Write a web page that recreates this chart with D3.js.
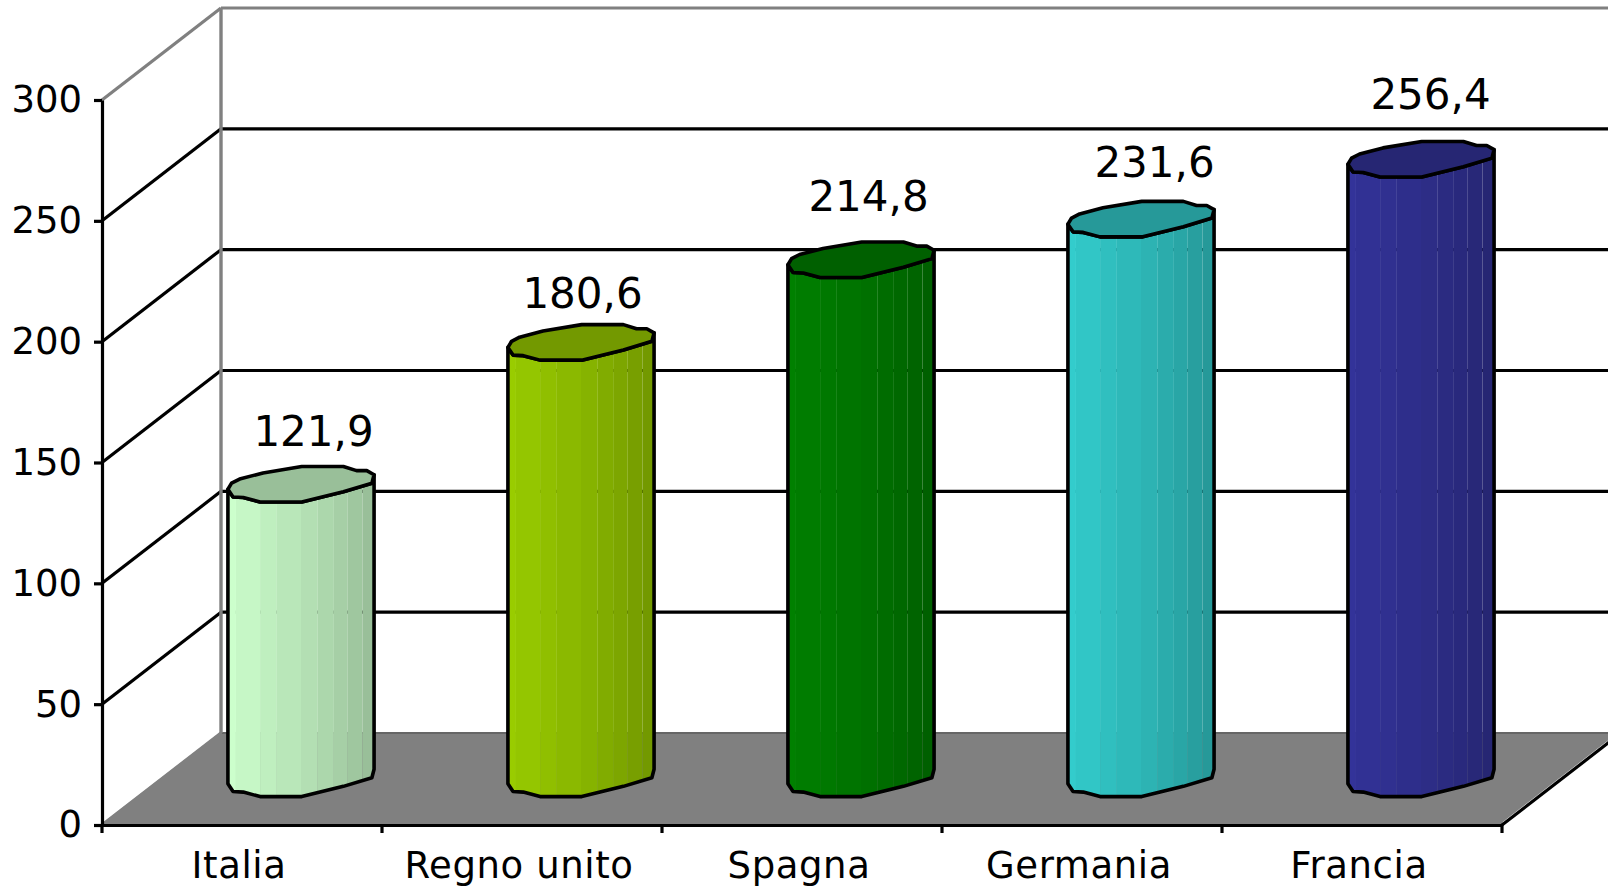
<!DOCTYPE html>
<html>
<head>
<meta charset="utf-8">
<script src="https://cdn.jsdelivr.net/npm/d3@7"></script>
<style>
html, body { margin: 0; padding: 0; background: #fff; overflow: hidden; }
text { font-family: "DejaVu Sans", sans-serif; font-size: 42px; fill: #000; }
</style>
</head>
<body>
<div id="chart"></div>
<script>
"use strict";

const countries = ["Italia", "Regno unito", "Spagna", "Germania", "Francia"];
const values = [121.9, 180.6, 214.8, 231.6, 256.4];
const valueLabels = ["121,9", "180,6", "214,8", "231,6", "256,4"];
const yTicks = [0, 50, 100, 150, 200, 250, 300];

const barColors = ["#ccffcc", "#99cc00", "#008000", "#33cccc", "#333399"];
const capColors = ["#99bf99", "#739900", "#006000", "#269999", "#262673"];

// labels in the picture don't sit at a regular distance from the bars
const labelShift = [[12, -38], [1, -35], [7, -49], [13, -42], [9, -50]];

// outline of the cylinder top, in fractions of its radii, from the right going round the front
const rimShape = [[1, -.54], [.97, -.07], [.58, .41], [.01, .98], [-.56, .98], [-.79, .73], [-.93, .7], [-1, .27],
    [-.95, -.07], [-.84, -.3], [-.52, -.64], [.01, -1], [.58, -1], [.76, -.77], [.9, -.77]];
const frontRim = rimShape.slice(0, 8);
// facet edges across the cylinder, -1 left side, 1 right side
const facets = [-1, -.89, -.56, -.33, 0, .23, .45, .64, .84, 1];

const WIDTH = 1608, HEIGHT = 886;
const margin = {top: 100, left: 102, bottom: 61};
const depthX = 119, depthY = 92;
const plotWidth = 1400;
const LINE = 3.2;

const svg = d3.select("#chart").append("svg")
    .attr("width", WIDTH)
    .attr("height", HEIGHT)
    .style("display", "block");

const x = d3.scaleBand().domain(countries).range([margin.left, margin.left + plotWidth]);
const y = d3.scaleLinear().domain([0, 300]).range([HEIGHT - margin.bottom, margin.top]);
const y0 = y(0), x0 = x.range()[0], x1 = x.range()[1];

// floor
svg.append("polygon")
    .attr("points", [[x0, y0], [x0 + depthX, y0 - depthY], [x1 + depthX, y0 - depthY], [x1, y0]].join(" "))
    .attr("fill", "#808080");
svg.append("line").attr("x1", x0 + depthX).attr("x2", WIDTH)
    .attr("y1", y0 - depthY).attr("y2", y0 - depthY)
    .attr("stroke", "#666").attr("stroke-width", 2);
svg.append("line").attr("x1", x0 + 2).attr("y1", y0 - 2)
    .attr("x2", x0 + depthX).attr("y2", y0 - depthY)
    .attr("stroke", "#aaa").attr("stroke-width", 2);
svg.append("line").attr("x1", x1 + 1).attr("y1", y0 - 2)
    .attr("x2", x1 + depthX + 1).attr("y2", y0 - depthY - 2)
    .attr("stroke", "#fff").attr("stroke-width", 2);
svg.append("line").attr("x1", x1).attr("y1", y0)
    .attr("x2", x1 + depthX).attr("y2", y0 - depthY)
    .attr("stroke", "#000").attr("stroke-width", LINE);

// grid on the side and back walls
const gridColor = d => (d === 0 || d === 300) ? "#808080" : "#000";
svg.selectAll(".side").data(yTicks).enter().append("line")
    .attr("class", "side")
    .attr("x1", x0).attr("y1", d => y(d))
    .attr("x2", x0 + depthX).attr("y2", d => y(d) - depthY)
    .attr("stroke", gridColor)
    .attr("stroke-width", LINE);
svg.selectAll(".back").data(yTicks.slice(1)).enter().append("line")
    .attr("class", "back")
    .attr("x1", x0 + depthX).attr("y1", d => y(d) - depthY)
    .attr("x2", WIDTH).attr("y2", d => y(d) - depthY)
    .attr("stroke", gridColor)
    .attr("stroke-width", LINE);
svg.append("line")
    .attr("x1", x0 + depthX).attr("y1", y(300) - depthY)
    .attr("x2", x0 + depthX).attr("y2", y0 - depthY)
    .attr("stroke", "#808080")
    .attr("stroke-width", 3.4);

// cylinders
const rx = x.bandwidth() * 0.261;
const ry = depthY * 0.195;
const outline = d3.line().curve(d3.curveLinearClosed);

countries.forEach(function(c, i) {
    const cx = x(c) + x.bandwidth() / 2 + depthX / 2 - 0.5;
    const top = y(values[i]) - depthY / 2;
    const bottom = y0 - depthY / 2;
    const rim = (p, cy) => [cx + p[0] * rx, cy + p[1] * ry];
    const body = frontRim.map(p => rim(p, bottom))
        .concat(frontRim.slice().reverse().map(p => rim(p, top)));
    const g = svg.append("g");
    const shade = d3.interpolateRgb(barColors[i], capColors[i]);

    g.append("clipPath").attr("id", "body" + i)
        .append("path").attr("d", outline(body));
    g.append("g").attr("clip-path", "url(#body" + i + ")")
        .selectAll("rect").data(facets.slice(1)).enter().append("rect")
        .attr("x", (d, k) => cx + facets[k] * rx)
        .attr("width", (d, k) => (d - facets[k]) * rx)
        .attr("y", top - ry)
        .attr("height", bottom - top + 2 * ry)
        .attr("fill", (d, k) => shade(k / (facets.length - 2)));
    g.append("path").attr("d", outline(body))
        .attr("fill", "none")
        .attr("stroke", "#000")
        .attr("stroke-width", 3.6)
        .attr("stroke-linejoin", "round");
    g.append("path").attr("d", outline(rimShape.map(p => rim(p, top))))
        .attr("fill", capColors[i])
        .attr("stroke", "#000")
        .attr("stroke-width", 3.6)
        .attr("stroke-linejoin", "round");
    g.append("text")
        .attr("x", cx + labelShift[i][0] + 0.5)
        .attr("y", top + labelShift[i][1])
        .attr("text-anchor", "middle")
        .text(valueLabels[i]);
});

// axes
const yAxis = svg.append("g")
    .attr("transform", "translate(" + x0 + ",0)")
    .call(d3.axisLeft(y).tickValues(yTicks).tickSize(8).tickPadding(12).tickSizeOuter(0));
const xAxis = svg.append("g")
    .attr("transform", "translate(0," + y0 + ")")
    .call(d3.axisBottom(x).tickSize(0).tickPadding(27));
xAxis.selectAll(".tick text").attr("dx", -3).style("letter-spacing", "0.6px");
xAxis.selectAll(".edge").data(d3.range(countries.length + 1)).enter().append("line")
    .attr("class", "edge")
    .attr("x1", d => x0 + d * x.step()).attr("x2", d => x0 + d * x.step())
    .attr("y1", 0).attr("y2", 8)
    .attr("stroke", "#000");
[yAxis, xAxis].forEach(function(a) {
    a.selectAll("path, line").attr("stroke", "#000").attr("stroke-width", LINE);
    a.selectAll("text").style("font-size", "37px").style("font-family", '"DejaVu Sans", sans-serif');
});
</script>
</body>
</html>
